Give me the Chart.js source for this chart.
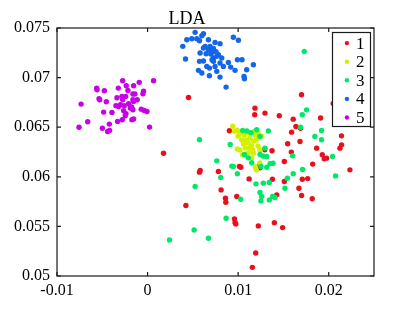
<!DOCTYPE html>
<html lang="en">
<head>
    <meta charset="UTF-8">
    <title>LDA</title>
    <style>
        body { margin: 0; background: #fff; }
    </style>
</head>
<body>
    <canvas id="myChart" width="416" height="313"></canvas>

    <script src="https://cdn.jsdelivr.net/npm/chart.js"></script>

    <script>
        // grupos e cores (colormap hsv(5))
        const classNames = ['1', '2', '3', '4', '5'];
        const classColors = ['#e8101c', '#d2f000', '#00e86a', '#1466e8', '#c800e8'];

        // ticks dos eixos
        const xTicks = [-0.01, 0, 0.01, 0.02];
        const yTicks = [0.05, 0.055, 0.06, 0.065, 0.07, 0.075];

        // pontos [x, y]
        const class1 = [
            [0.00452, 0.0680], [0.00176, 0.06238], [0.00423, 0.0571], [0.00581, 0.06063], [0.00573, 0.06047],
            [0.00782, 0.06053], [0.00812, 0.05868], [0.0086, 0.05785], [0.00864, 0.05744], [0.00903, 0.06464],
            [0.00985, 0.05801], [0.00959, 0.05576], [0.00974, 0.05525], [0.00966, 0.0554], [0.01014, 0.06104],
            [0.01029, 0.06097], [0.01121, 0.05979], [0.01157, 0.05087], [0.01194, 0.05232], [0.01186, 0.06692],
            [0.01183, 0.06625], [0.01223, 0.05505], [0.01234, 0.06111], [0.01294, 0.06272], [0.01296, 0.06642],
            [0.01374, 0.06262], [0.01378, 0.05976], [0.014, 0.05538], [0.01426, 0.05818], [0.01454, 0.06615],
            [0.01491, 0.05488], [0.0151, 0.05952], [0.0151, 0.06154], [0.01547, 0.06333], [0.0159, 0.0645],
            [0.01587, 0.06249], [0.01608, 0.06581], [0.01638, 0.06507], [0.01671, 0.05885], [0.01683, 0.06356],
            [0.01689, 0.0649], [0.017, 0.06827], [0.01708, 0.05976], [0.01701, 0.05811], [0.01768, 0.05982],
            [0.01818, 0.05778], [0.01823, 0.06128], [0.01867, 0.06289], [0.0191, 0.06592], [0.01929, 0.06222],
            [0.01951, 0.06181], [0.01977, 0.06188], [0.02124, 0.06289], [0.02142, 0.06322], [0.02141, 0.06413],
            [0.02234, 0.0607], [0.0205, 0.0674], [0.01241, 0.0609]
        ];
        const class2 = [
            [0.0094, 0.0651], [0.0096, 0.0646], [0.0099, 0.0647], [0.0102, 0.0644], [0.0100, 0.0641],
            [0.0104, 0.0637], [0.0107, 0.0642], [0.0109, 0.0637], [0.0111, 0.0634], [0.0113, 0.0639],
            [0.0115, 0.0631], [0.0117, 0.0636], [0.0119, 0.0642], [0.0120, 0.0637], [0.0122, 0.0631],
            [0.0124, 0.0627], [0.0111, 0.0624], [0.0109, 0.0621], [0.0115, 0.0619], [0.0108, 0.0629],
            [0.0102, 0.0627], [0.0099, 0.0628], [0.0117, 0.0624], [0.0119, 0.0610], [0.0120, 0.0607],
            [0.0124, 0.0614], [0.0126, 0.0641], [0.0118, 0.0646], [0.0113, 0.0629], [0.0106, 0.0633],
            [0.0112, 0.0644], [0.0122, 0.0644], [0.0116, 0.0627], [0.0105, 0.0622]
        ];
        const class3 = [
            [0.0173, 0.07264], [0.01755, 0.06675], [0.01708, 0.06625], [0.01689, 0.065], [0.00573, 0.06373],
            [0.00525, 0.05902], [0.00514, 0.05464], [0.00242, 0.05363], [0.00672, 0.0538], [0.00867, 0.05582],
            [0.00764, 0.06161], [0.00808, 0.05993], [0.00912, 0.06326], [0.00947, 0.06104], [0.00992, 0.0603],
            [0.01028, 0.05774], [0.0105, 0.06467], [0.01095, 0.06461], [0.01143, 0.06444], [0.01069, 0.06225],
            [0.01113, 0.06191], [0.0115, 0.06141], [0.01241, 0.06406], [0.01242, 0.06225], [0.01278, 0.06208],
            [0.01296, 0.06289], [0.01252, 0.06104], [0.01197, 0.05929], [0.01241, 0.05841], [0.0126, 0.05801],
            [0.01252, 0.05757], [0.01278, 0.05936], [0.01315, 0.06205], [0.01344, 0.05943], [0.01344, 0.05767],
            [0.01316, 0.06097], [0.01352, 0.06131], [0.01333, 0.06461], [0.01381, 0.05801], [0.01407, 0.05791],
            [0.01385, 0.06137], [0.01517, 0.05885], [0.01543, 0.05986], [0.01601, 0.06211], [0.01608, 0.0603],
            [0.01711, 0.06073], [0.01847, 0.06406], [0.01921, 0.06467], [0.01921, 0.06373], [0.02042, 0.06205],
            [0.02075, 0.06009], [0.0093, 0.06108], [0.01205, 0.06474]
        ];
        const class4 = [
            [0.00389, 0.07315], [0.00419, 0.07187], [0.00433, 0.07382], [0.00488, 0.07392], [0.00525, 0.07456],
            [0.00544, 0.07392], [0.00573, 0.07372], [0.00562, 0.07073], [0.00573, 0.07164], [0.00599, 0.07422],
            [0.00617, 0.07443], [0.00617, 0.07298], [0.00635, 0.07315], [0.00646, 0.07241], [0.00617, 0.07167],
            [0.00654, 0.07113], [0.00672, 0.07382], [0.0069, 0.07315], [0.00709, 0.07254], [0.00683, 0.07019],
            [0.00727, 0.07295], [0.00727, 0.07197], [0.00745, 0.07355], [0.00712, 0.0718], [0.00727, 0.07164],
            [0.00745, 0.07113], [0.00764, 0.07063], [0.00782, 0.07231], [0.008, 0.07342], [0.008, 0.07147],
            [0.008, 0.07005], [0.00819, 0.07197], [0.00837, 0.07113], [0.00867, 0.06904], [0.00892, 0.07153],
            [0.00918, 0.07106], [0.00947, 0.07406], [0.00966, 0.07073], [0.00992, 0.0718], [0.01003, 0.07376],
            [0.01043, 0.0718], [0.01065, 0.07012], [0.01069, 0.06988], [0.01094, 0.07079], [0.01168, 0.0713],
            [0.00756, 0.07261], [0.00672, 0.07281], [0.00698, 0.07238], [0.00764, 0.07214], [0.00599, 0.07046],
            [0.00683, 0.07096], [0.0058, 0.07248]
        ];
        const class5 = [
            [-0.00757, 0.0650], [-0.00734, 0.06733], [-0.00661, 0.06555], [-0.00562, 0.06894], [-0.00558, 0.06878],
            [-0.00536, 0.06787], [-0.00529, 0.06777], [-0.00477, 0.06867], [-0.00499, 0.0649], [-0.00485, 0.06652],
            [-0.00455, 0.06756], [-0.00441, 0.06457], [-0.00419, 0.06467], [-0.00422, 0.06531], [-0.00393, 0.06649],
            [-0.00338, 0.06797], [-0.00323, 0.06894], [-0.00349, 0.06716], [-0.00331, 0.06558], [-0.00275, 0.06968],
            [-0.00283, 0.0681], [-0.00275, 0.06777], [-0.00257, 0.06716], [-0.00264, 0.06666], [-0.00235, 0.06918],
            [-0.00242, 0.0681], [-0.00239, 0.06635], [-0.00279, 0.06575], [-0.00246, 0.06615], [-0.00209, 0.06736],
            [-0.00301, 0.06726], [-0.00319, 0.06709], [-0.00154, 0.06918], [-0.00162, 0.06834], [-0.0014, 0.06834],
            [-0.00162, 0.06777], [-0.00176, 0.06703], [-0.00162, 0.06676], [-0.00154, 0.06582], [-0.00173, 0.06575],
            [-0.00154, 0.0676], [-0.00092, 0.06952], [-0.00114, 0.06777], [-0.0007, 0.06682], [-0.00051, 0.06837],
            [-0.00044, 0.06864], [-0.00037, 0.06669], [-0.00007, 0.06659], [0.00022, 0.06501], [0.00066, 0.06968],
            [-0.00217, 0.06871], [-0.00191, 0.06693]
        ];

        const allClasses = [class1, class2, class3, class4, class5];
        const font = 'Liberation Serif, Times New Roman, serif';

        // moldura com ticks para dentro + legenda dentro do eixo
        const boxPlugin = {
            id: 'box',
            afterDraw(chart) {
                const { ctx, chartArea: a, scales } = chart;
                const t = 4;
                ctx.save();
                ctx.strokeStyle = '#1a1a1a';
                ctx.lineWidth = 1.2;
                ctx.strokeRect(a.left, a.top, a.right - a.left, a.bottom - a.top);
                ctx.beginPath();
                scales.x.ticks.forEach(tk => {
                    const p = scales.x.getPixelForValue(tk.value);
                    ctx.moveTo(p, a.bottom); ctx.lineTo(p, a.bottom - t);
                    ctx.moveTo(p, a.top); ctx.lineTo(p, a.top + t);
                });
                scales.y.ticks.forEach(tk => {
                    const p = scales.y.getPixelForValue(tk.value);
                    ctx.moveTo(a.left, p); ctx.lineTo(a.left + t, p);
                    ctx.moveTo(a.right, p); ctx.lineTo(a.right - t, p);
                });
                ctx.stroke();

                // legenda
                const bw = 38, bh = 94;
                const bx = a.right - 3.5 - bw, by = a.top + 4.5;
                ctx.fillStyle = '#fff';
                ctx.fillRect(bx, by, bw, bh);
                ctx.strokeRect(bx, by, bw, bh);
                ctx.font = '17px ' + font;
                ctx.textBaseline = 'middle';
                ctx.textAlign = 'left';
                chart.data.datasets.forEach((ds, i) => {
                    const yy = by + 10.6 + i * 18.6;
                    ctx.fillStyle = ds.backgroundColor;
                    ctx.beginPath();
                    ctx.arc(bx + 14.4, yy, 2.2, 0, Math.PI * 2);
                    ctx.fill();
                    ctx.fillStyle = '#000';
                    ctx.fillText(ds.label, bx + 23.5, yy + 1);
                });
                ctx.restore();
            }
        };

        const ctx = document.getElementById('myChart');

        new Chart(ctx, {
            type: 'scatter',
            data: {
                datasets: allClasses.map((pts, i) => ({
                    label: classNames[i],
                    data: pts.map(p => ({ x: p[0], y: p[1] })),
                    backgroundColor: classColors[i],
                    borderWidth: 0,
                    pointRadius: 2.7,
                    order: 5 - i   // último grupo por cima
                }))
            },
            options: {
                responsive: false,
                animation: false,
                layout: { padding: { left: 0, right: 42, top: 0, bottom: 0 } },
                plugins: {
                    legend: { display: false },
                    tooltip: { enabled: false },
                    title: {
                        display: true,
                        text: 'LDA',
                        color: '#000',
                        font: { family: font, size: 18, weight: 'normal', lineHeight: 1 },
                        padding: { top: 10, bottom: 0 }
                    }
                },
                scales: {
                    x: {
                        type: 'linear',
                        min: -0.01,
                        max: 0.025,
                        grid: { display: false, drawTicks: false },
                        border: { display: false },
                        afterBuildTicks: s => { s.ticks = xTicks.map(v => ({ value: v })); },
                        afterFit: s => { s.height = 37; },
                        ticks: {
                            color: '#000',
                            padding: 5,
                            maxRotation: 0,
                            font: { family: font, size: 16 },
                            callback: v => String(v)
                        }
                    },
                    y: {
                        type: 'linear',
                        min: 0.05,
                        max: 0.075,
                        grid: { display: false, drawTicks: false },
                        border: { display: false },
                        afterBuildTicks: s => { s.ticks = yTicks.map(v => ({ value: v })); },
                        afterFit: s => { s.width = 57; },
                        ticks: {
                            color: '#000',
                            padding: 7,
                            font: { family: font, size: 16 },
                            callback: v => String(v)
                        }
                    }
                }
            },
            plugins: [boxPlugin]
        });
    </script>
</body>
</html>
